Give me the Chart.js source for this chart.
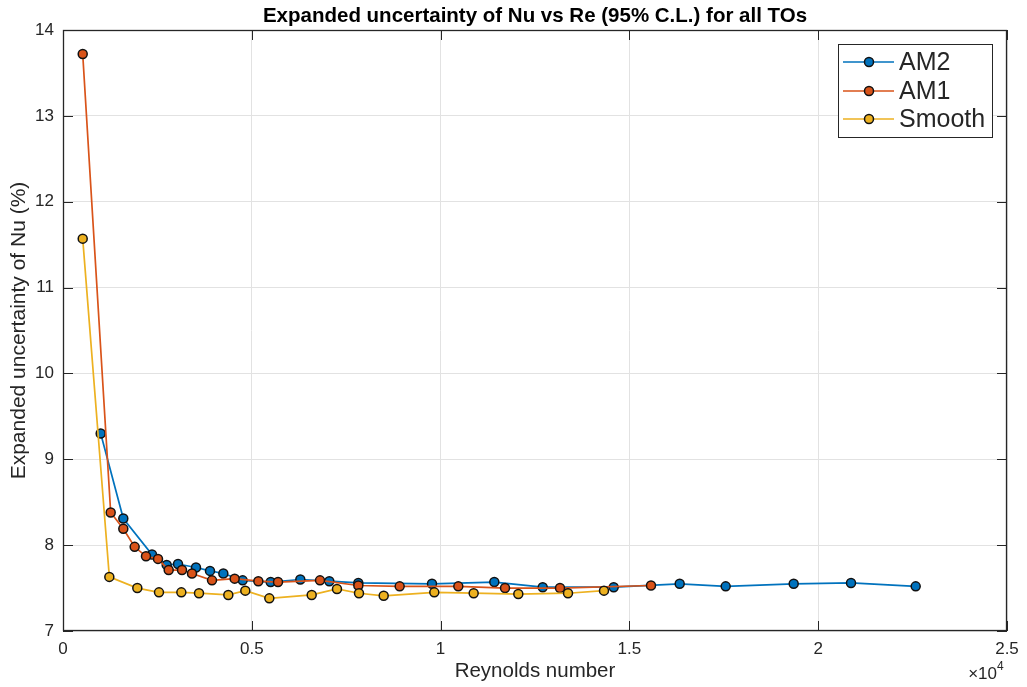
<!DOCTYPE html>
<html>
<head>
<meta charset="utf-8">
<script src="https://cdn.jsdelivr.net/npm/chart.js@4"></script>
<style>
  html, body { margin: 0; padding: 0; background: #fff; }
  #wrap { width: 1027px; height: 687px; position: relative; }
</style>
</head>
<body>
<div id="wrap"><canvas id="uncChart"></canvas></div>
<script>
// values
const am2Re = [998, 1597, 2357, 2746, 3046, 3522, 3893, 4246, 4758, 5500, 6285, 7053, 7821, 9772, 11422, 12704, 14584, 16332, 17550, 19351, 20869, 22582];
const am2U  = [9.30, 8.31, 7.89, 7.77, 7.78, 7.74, 7.70, 7.67, 7.59, 7.57, 7.60, 7.58, 7.56, 7.55, 7.57, 7.51, 7.51, 7.55, 7.52, 7.55, 7.56, 7.52];

const am1Re = [522, 1263, 1597, 1898, 2198, 2516, 2799, 3152, 3416, 3946, 4546, 5173, 5694, 6806, 7821, 8916, 10469, 11706, 13162, 15572];
const am1U  = [13.72, 8.38, 8.19, 7.98, 7.87, 7.84, 7.71, 7.71, 7.67, 7.59, 7.61, 7.58, 7.57, 7.59, 7.53, 7.52, 7.52, 7.50, 7.50, 7.53];

const smoothRe = [522, 1227, 1968, 2542, 3134, 3602, 4378, 4828, 5464, 6586, 7256, 7839, 8493, 9833, 10876, 12058, 13374, 14327];
const smoothU  = [11.57, 7.63, 7.50, 7.45, 7.45, 7.44, 7.42, 7.47, 7.38, 7.42, 7.49, 7.44, 7.41, 7.45, 7.44, 7.43, 7.44, 7.47];

const xTicks = [0, 5000, 10000, 15000, 20000, 25000];
const yTicks = [7, 8, 9, 10, 11, 12, 13, 14];

const FONT = "'Liberation Sans', Arial, Helvetica, sans-serif";
const AXIS_COL = "#262626";

function pts(xs, ys) {
  return xs.map((x, i) => ({ x: x, y: ys[i] }));
}

function series(label, xs, ys, color, order) {
  return {
    label: label,
    data: pts(xs, ys),
    borderColor: color,
    backgroundColor: color,
    borderWidth: 1.7,
    pointRadius: 4.5,
    pointBorderWidth: 1.5,
    pointBorderColor: "#111",
    pointBackgroundColor: color,
    tension: 0,
    order: order,
  };
}

// box, inward ticks, title, exponent label and legend
const matlabFrame = {
  id: "matlabFrame",
  beforeDatasetsDraw(chart) {
    const { ctx, chartArea: a, scales } = chart;
    ctx.save();
    ctx.strokeStyle = AXIS_COL;
    ctx.lineWidth = 1;
    ctx.beginPath();
    xTicks.forEach(v => {
      const px = Math.round(scales.x.getPixelForValue(v)) + 0.5;
      ctx.moveTo(px, a.bottom); ctx.lineTo(px, a.bottom - 10);
      ctx.moveTo(px, a.top); ctx.lineTo(px, a.top + 10);
    });
    yTicks.forEach(v => {
      const py = Math.round(scales.y.getPixelForValue(v)) + 0.5;
      ctx.moveTo(a.left, py); ctx.lineTo(a.left + 10, py);
      ctx.moveTo(a.right, py); ctx.lineTo(a.right - 10, py);
    });
    ctx.stroke();
    ctx.lineWidth = 1.3;
    ctx.strokeRect(a.left + 0.5, a.top + 0.5, a.right - a.left - 1, a.bottom - a.top - 1);
    ctx.restore();
  },
  afterDraw(chart) {
    const { ctx, chartArea: a } = chart;
    ctx.save();
    // title
    ctx.fillStyle = "#000";
    ctx.font = "bold 20.5px " + FONT;
    ctx.textAlign = "center";
    ctx.textBaseline = "middle";
    ctx.fillText("Expanded uncertainty of Nu vs Re (95% C.L.) for all TOs", (a.left + a.right) / 2, 16);

    // x10^4
    ctx.fillStyle = AXIS_COL;
    ctx.font = "17px " + FONT;
    ctx.textAlign = "right";
    ctx.fillText("\u00d710", a.right - 10, 674);
    ctx.font = "12px " + FONT;
    ctx.textAlign = "left";
    ctx.fillText("4", a.right - 10, 667);

    // legend
    const bx = 838, by = 44, bw = 154, bh = 93;
    ctx.fillStyle = "#fff";
    ctx.fillRect(bx, by, bw, bh);
    ctx.strokeStyle = AXIS_COL;
    ctx.lineWidth = 1;
    ctx.strokeRect(bx + 0.5, by + 0.5, bw, bh);
    const rows = [62, 91, 119];
    chart.data.datasets.forEach((ds, i) => {
      const y = rows[i];
      ctx.strokeStyle = ds.borderColor;
      ctx.lineWidth = 1.7;
      ctx.beginPath();
      ctx.moveTo(843, y); ctx.lineTo(894, y);
      ctx.stroke();
      ctx.beginPath();
      ctx.arc(869, y, 4.5, 0, Math.PI * 2);
      ctx.fillStyle = ds.pointBackgroundColor;
      ctx.fill();
      ctx.lineWidth = 1.5;
      ctx.strokeStyle = "#111";
      ctx.stroke();
      ctx.fillStyle = AXIS_COL;
      ctx.font = "25px " + FONT;
      ctx.textAlign = "left";
      ctx.textBaseline = "middle";
      ctx.fillText(ds.label, 899, y + 1);
    });
    ctx.restore();
  },
};

document.addEventListener("DOMContentLoaded", function () {
  const ctx = document.getElementById("uncChart").getContext("2d");
  new Chart(ctx, {
    type: "line",
    data: {
      datasets: [
        series("AM2", am2Re, am2U, "#0072BD", 3),
        series("AM1", am1Re, am1U, "#D95319", 2),
        series("Smooth", smoothRe, smoothU, "#EDB120", 1),
      ],
    },
    options: {
      responsive: true,
      maintainAspectRatio: false,
      animation: false,
      devicePixelRatio: 1,
      layout: { padding: { top: 30, right: 20, left: 0, bottom: 0 } },
      plugins: {
        legend: { display: false },
        tooltip: { enabled: false },
        title: { display: false },
      },
      scales: {
        x: {
          type: "linear",
          min: 0,
          max: 25000,
          afterBuildTicks: s => { s.ticks = xTicks.map(v => ({ value: v })); },
          afterFit: s => { s.height = 56; },
          ticks: {
            padding: 8,
            color: AXIS_COL,
            font: { family: FONT, size: 17 },
            maxRotation: 0,
            callback: v => String(v / 10000),
          },
          grid: { color: "#e2e2e2", lineWidth: 1, drawTicks: false },
          border: { display: false },
          title: {
            display: true,
            text: "Reynolds number",
            color: AXIS_COL,
            font: { family: FONT, size: 20.5 },
            padding: { top: 0, bottom: 3 },
          },
        },
        y: {
          type: "linear",
          min: 7,
          max: 14,
          afterBuildTicks: s => { s.ticks = yTicks.map(v => ({ value: v })); },
          afterFit: s => { s.width = 63; },
          ticks: {
            padding: 9,
            color: AXIS_COL,
            font: { family: FONT, size: 17 },
          },
          grid: { color: "#e2e2e2", lineWidth: 1, drawTicks: false },
          border: { display: false },
          title: {
            display: true,
            text: "Expanded uncertainty of Nu (%)",
            color: AXIS_COL,
            font: { family: FONT, size: 21 },
            padding: { top: 7, bottom: 0 },
          },
        },
      },
    },
    plugins: [matlabFrame],
  });
});
</script>
</body>
</html>
